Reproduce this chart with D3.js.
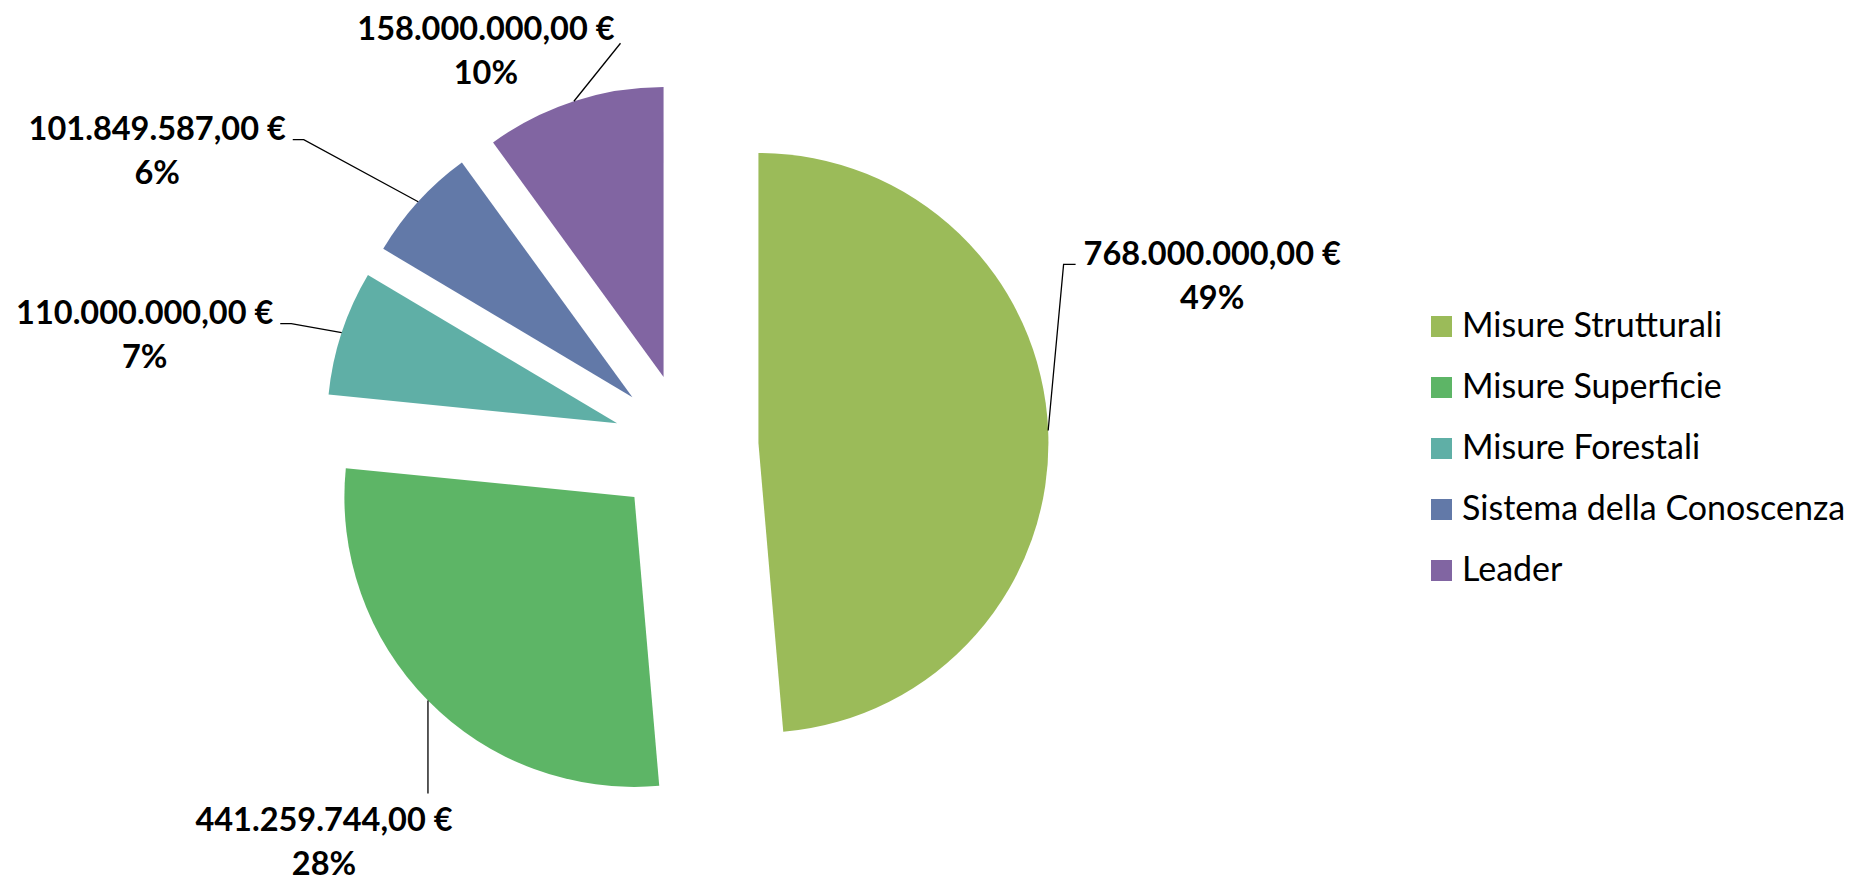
<!DOCTYPE html>
<html>
<head>
<meta charset="utf-8">
<script src="https://cdn.jsdelivr.net/npm/d3@7"></script>
<style>
    html, body { margin: 0; padding: 0; background: #fff; }
    svg { display: block; }
    .label { font-family: Lato, "Open Sans", sans-serif; font-weight: bold; font-size: 32.5px; fill: #000; }
    .legend text { font-family: Lato, "Open Sans", sans-serif; font-size: 34px; fill: #000; }
    .leader { fill: none; stroke: #000; stroke-width: 1.3px; }
</style>
</head>
<body>
<svg id="chart" width="1854" height="881"></svg>
<script>
// data
var categories = ['Misure Strutturali', 'Misure Superficie', 'Misure Forestali', 'Sistema della Conoscenza', 'Leader'];
var amounts = [768000000, 441259744, 110000000, 101849587, 158000000];
var colours = ['#9BBB59', '#5DB566', '#5FAFA6', '#6279A8', '#8165A2'];

// label layout: offset of the first text line from the leader start on the arc, and how the leader meets the text
var labelOffsets = [[164, -165], [-104, 130], [-197, -9], [-261, -62], [-88, -61]];
var labelAttach = ['left', 'top', 'right', 'right', 'corner'];

var width = 1854, height = 881;
var cx = 686, cy = 446, radius = 290, explode = 0.25 * radius;

var svg = d3.select('#chart');

var it = d3.formatLocale({decimal: ',', thousands: '.', grouping: [3], currency: ['', ' €']});
var money = it.format('$,.2f');
var pct = d3.format('.0%');
var total = d3.sum(amounts);

var colour = d3.scaleOrdinal().domain(categories).range(colours);

var pie = d3.pie().sort(null).value(d => d);
var arc = d3.arc().innerRadius(0).outerRadius(radius);
var slices = pie(amounts);

function mid(d) { return (d.startAngle + d.endAngle) / 2; }

var g = svg.append('g').attr('transform', 'translate(' + cx + ',' + cy + ')');

g.selectAll('path.slice')
    .data(slices)
    .enter()
    .append('path')
    .attr('class', 'slice')
    .attr('transform', d => 'translate(' + (Math.sin(mid(d)) * explode) + ',' + (-Math.cos(mid(d)) * explode) + ')')
    .attr('d', arc)
    .attr('fill', (d, i) => colour(categories[i]));

// labels + leader lines
slices.forEach(function (d, i) {
    var a = mid(d);
    var sx = cx + Math.sin(a) * (explode + radius);
    var sy = cy - Math.cos(a) * (explode + radius);
    var lx = sx + labelOffsets[i][0];
    var ly = sy + labelOffsets[i][1];

    var t = svg.append('text')
        .attr('class', 'label')
        .attr('text-anchor', 'middle')
        .attr('x', lx)
        .attr('y', ly);
    t.append('tspan').attr('x', lx).text(money(amounts[i]));
    t.append('tspan').attr('x', lx).attr('dy', 44).text(pct(amounts[i] / total));

    var w = t.select('tspan').node().getComputedTextLength();
    var pts;
    if (labelAttach[i] === 'left') {
        var ex = lx - w / 2 - 8;
        pts = [[sx, sy], [ex - 12, ly - 1], [ex, ly - 1]];
    } else if (labelAttach[i] === 'right') {
        var rx = lx + w / 2 + 7;
        pts = [[sx, sy], [rx + 11, ly], [rx, ly]];
    } else if (labelAttach[i] === 'top') {
        pts = [[sx, sy], [sx, ly - 37]];
    } else {
        pts = [[sx, sy], [lx + w / 2 + 6, ly + 3]];
    }

    svg.append('path')
        .attr('class', 'leader')
        .attr('d', d3.line()(pts));
});

// legend
var legend = svg.append('g').attr('class', 'legend').attr('transform', 'translate(1431,316)');
var item = legend.selectAll('g')
    .data(categories)
    .enter()
    .append('g')
    .attr('transform', (d, i) => 'translate(0,' + (i * 61) + ')');

item.append('rect')
    .attr('width', 21)
    .attr('height', 21)
    .attr('fill', d => colour(d));

item.append('text')
    .attr('x', 31)
    .attr('y', 21)
    .text(d => d);
</script>
</body>
</html>
